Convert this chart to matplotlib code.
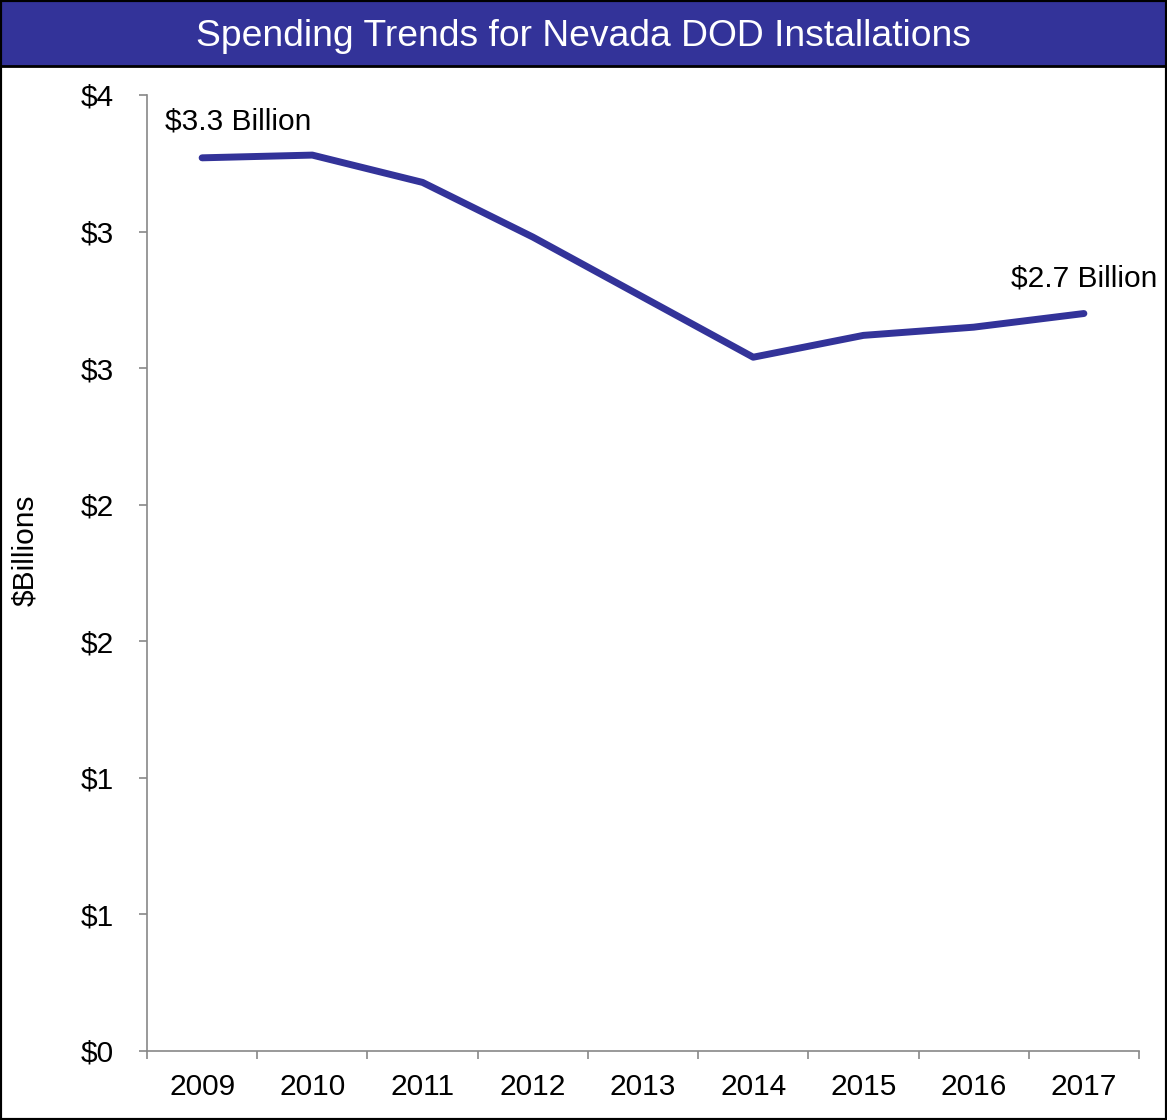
import matplotlib
matplotlib.use("Agg")
import matplotlib.pyplot as plt
from matplotlib.patches import Rectangle

# data
years = ["2009", "2010", "2011", "2012", "2013", "2014", "2015", "2016", "2017"]
spending = [3.27, 3.28, 3.18, 2.98, 2.76, 2.54, 2.62, 2.65, 2.70]
ytick_vals = [0, 0.5, 1, 1.5, 2, 2.5, 3, 3.5]
ytick_labels = ["$0", "$1", "$1", "$2", "$2", "$3", "$3", "$4"]
first_label = "$3.3 Billion"
last_label = "$2.7 Billion"
title = "Spending Trends for Nevada DOD Installations"

plt.rcParams['font.family'] = ['Liberation Sans', 'DejaVu Sans']

navy = "#333399"
grey = "#888888"
fs = 21.5

fig = plt.figure(figsize=(11.67, 11.2), dpi=100)
ax = fig.add_axes([147 / 1167, 1 - 1051 / 1120, (1139 - 147) / 1167, (1051 - 95) / 1120])

x = list(range(len(years)))
ax.plot(x, spending, color=navy, linewidth=5, solid_capstyle='round')

ax.set_xlim(-0.5, len(years) - 0.5)
ax.set_ylim(0, 3.5)

# category boundaries get the tick marks, centres get the labels
ax.set_xticks([i - 0.5 for i in range(len(years) + 1)])
ax.set_xticklabels([])
ax.set_xticks(x, minor=True)
ax.set_xticklabels(years, minor=True, fontsize=fs)
ax.tick_params(axis='x', which='major', length=6, width=1.2, color=grey, direction='out')
ax.tick_params(axis='x', which='minor', length=0, pad=16)

ax.set_yticks(ytick_vals)
ax.set_yticklabels(ytick_labels, fontsize=fs)
ax.tick_params(axis='y', length=6, width=1.2, color=grey, direction='out', pad=18)

for side in ['top', 'right']:
    ax.spines[side].set_visible(False)
for side in ['left', 'bottom']:
    ax.spines[side].set_color(grey)
    ax.spines[side].set_linewidth(1.2)

ax.annotate(first_label, (x[0], spending[0]), xytext=(26, 26), textcoords='offset points',
            ha='center', va='center', fontsize=fs)
ax.annotate(last_label, (x[-1], spending[-1]), xytext=(0, 25), textcoords='offset points',
            ha='center', va='center', fontsize=fs, annotation_clip=False)

fig.text(25 / 1167, 1 - 550 / 1120, "$Billions", rotation=90, ha='center', va='center', fontsize=fs)

# title bar
fig.patches.append(Rectangle((0, 1 - 66 / 1120), 1, 66 / 1120, transform=fig.transFigure,
                             facecolor=navy, edgecolor='black', linewidth=2))
fig.text(0.5, 1 - 37 / 1120, title, color='white', ha='center', va='center', fontsize=26.8)

# outer border
fig.patches.append(Rectangle((0, 0), 1, 1, transform=fig.transFigure, fill=False,
                             edgecolor='black', linewidth=3))

fig.savefig("out.png", dpi=100)
